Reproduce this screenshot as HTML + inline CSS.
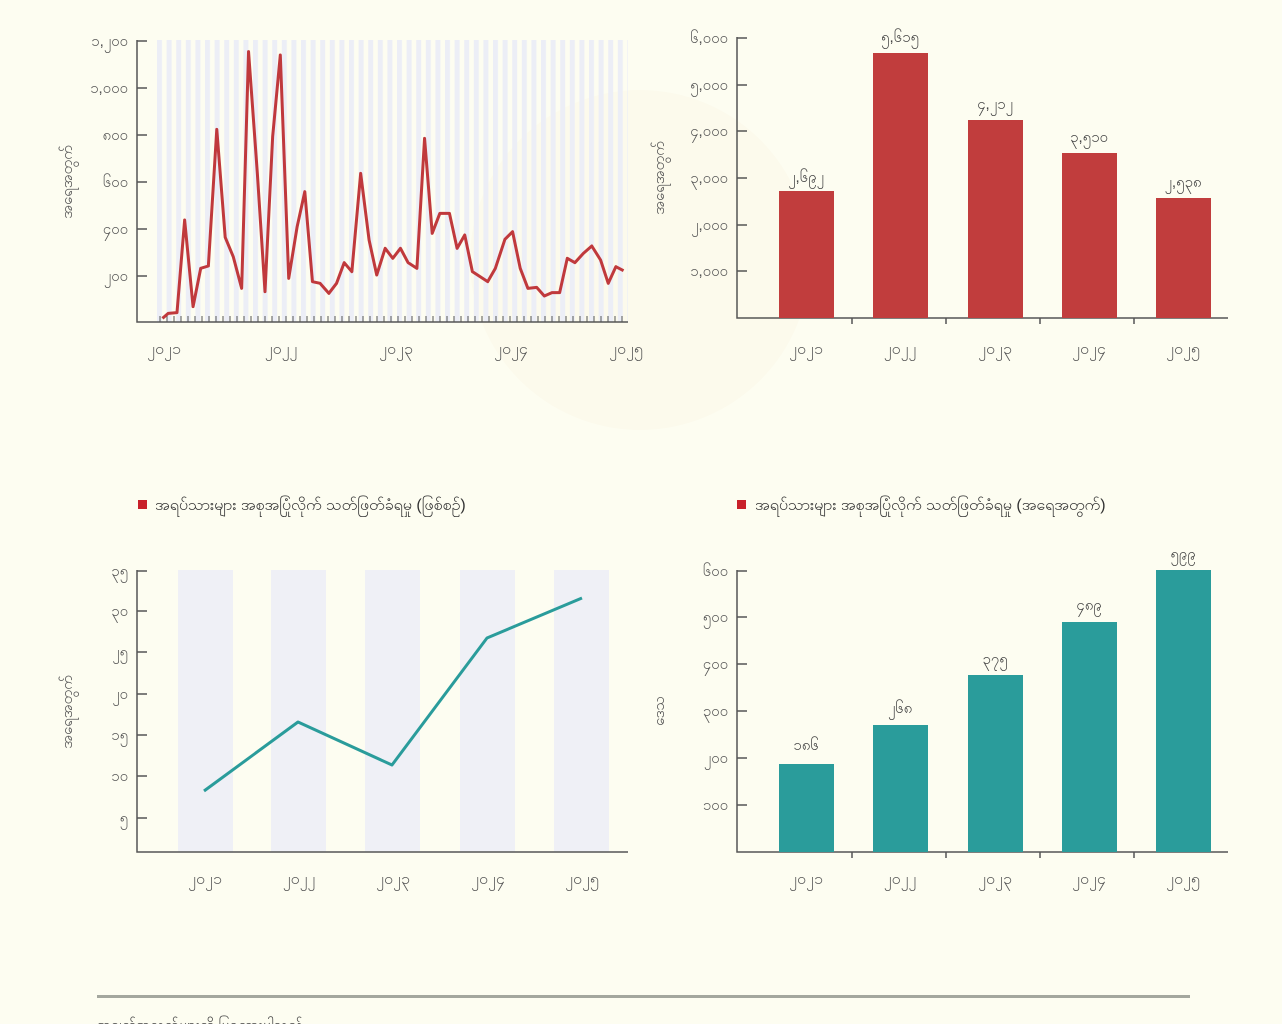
<!DOCTYPE html>
<html><head><meta charset="utf-8"><style>
body{margin:0;background:#fdfdf1;}
svg{display:block;font-family:"Liberation Sans","Noto Sans CJK SC",sans-serif;}
</style></head><body>
<svg width="1282" height="1024" viewBox="0 0 1282 1024">
<defs>
<pattern id="st" x="157" y="0" width="9.6" height="10" patternUnits="userSpaceOnUse"><rect x="0" y="0" width="5" height="10" fill="#eceef6"/></pattern>
</defs>
<rect width="1282" height="1024" fill="#fdfdf1"/>
<g opacity="0.025" fill="#e8702a"><circle cx="640" cy="260" r="170"/></g>

<!-- TOP LEFT -->
<rect x="157" y="40" width="471" height="282" fill="url(#st)"/>
<g stroke="#555" stroke-width="1.5" fill="none">
<path d="M137 40V322H628"/>
<path d="M137 41h10M137 88h10M137 135h10M137 182h10M137 229h10M137 276h10"/>
</g>
<g stroke="#555" stroke-width="1">
<path d="M160 322v-6M167 322v-6M174 322v-6M181 322v-6M188 322v-6M195 322v-6M202 322v-6M209 322v-6M216 322v-6M223 322v-6M230 322v-6M237 322v-6M244 322v-6M251 322v-6M258 322v-6M265 322v-6M272 322v-6M279 322v-6M286 322v-6M293 322v-6M300 322v-6M307 322v-6M314 322v-6M321 322v-6M328 322v-6M335 322v-6M342 322v-6M349 322v-6M356 322v-6M363 322v-6M370 322v-6M377 322v-6M384 322v-6M391 322v-6M398 322v-6M405 322v-6M412 322v-6M419 322v-6M426 322v-6M433 322v-6M440 322v-6M447 322v-6M454 322v-6M461 322v-6M468 322v-6M475 322v-6M482 322v-6M489 322v-6M496 322v-6M503 322v-6M510 322v-6M517 322v-6M524 322v-6M531 322v-6M538 322v-6M545 322v-6M552 322v-6M559 322v-6M566 322v-6M573 322v-6M580 322v-6M587 322v-6M594 322v-6M601 322v-6M608 322v-6M615 322v-6M622 322v-6"/>
</g>
<g transform="translate(40,20) scale(0.38265,0.33333)">
<polyline fill="none" stroke="#c0393c" stroke-width="3" vector-effect="non-scaling-stroke" stroke-linejoin="round"
points="320,895 335,880 358,878 378,600 400,860 420,745 440,738 462,328 484,652 505,710 527,805 545,95 568,460 588,815 608,350 628,105 650,775 672,620 692,515 712,785 732,790 755,820 775,790 795,728 815,755 838,460 860,660 880,765 902,685 922,715 942,685 962,728 985,745 1005,355 1025,640 1045,580 1070,580 1090,685 1110,645 1130,755 1150,770 1170,785 1190,745 1215,658 1235,635 1255,745 1275,805 1298,802 1318,828 1338,818 1358,818 1378,715 1398,728 1420,700 1442,678 1465,720 1485,790 1505,740 1525,752"/>
</g>
<g fill="#555" font-size="15" text-anchor="end">
<text x="128" y="46">၁,၂၀၀</text><text x="128" y="93">၁,၀၀၀</text><text x="128" y="140">၈၀၀</text><text x="128" y="187">၆၀၀</text><text x="128" y="234">၄၀၀</text><text x="128" y="281">၂၀၀</text>
</g>
<g fill="#555" font-size="16" text-anchor="middle">
<text x="164" y="354">၂၀၂၁</text><text x="281" y="354">၂၀၂၂</text><text x="396" y="354">၂၀၂၃</text><text x="511" y="354">၂၀၂၄</text><text x="626" y="354">၂၀၂၅</text>
</g>
<text transform="translate(72,182) rotate(-90)" fill="#555" font-size="15" text-anchor="middle">အရေအတွက်</text>

<!-- TOP RIGHT -->
<g stroke="#555" stroke-width="1.5" fill="none">
<path d="M737 37V318H1228"/>
<path d="M737 38h10M737 85h10M737 131h10M737 178h10M737 225h10M737 271h10"/>
<path d="M852 318v6M946 318v6M1040 318v6M1134 318v6"/>
</g>
<g fill="#c13d3d">
<rect x="779" y="191" width="55" height="127"/><rect x="873" y="53" width="55" height="265"/><rect x="968" y="120" width="55" height="198"/><rect x="1062" y="153" width="55" height="165"/><rect x="1156" y="198" width="55" height="120"/>
</g>
<g fill="#555" font-size="15" text-anchor="end">
<text x="728" y="43">၆,၀၀၀</text><text x="728" y="90">၅,၀၀၀</text><text x="728" y="136">၄,၀၀၀</text><text x="728" y="183">၃,၀၀၀</text><text x="728" y="230">၂,၀၀၀</text><text x="728" y="276">၁,၀၀၀</text>
</g>
<g fill="#444" font-size="15" text-anchor="middle">
<text x="806" y="182">၂,၆၉၂</text><text x="900" y="42">၅,၆၁၅</text><text x="995" y="109">၄,၂၁၂</text><text x="1089" y="142">၃,၅၁၀</text><text x="1183" y="187">၂,၅၃၈</text>
</g>
<g fill="#555" font-size="16" text-anchor="middle">
<text x="806" y="354">၂၀၂၁</text><text x="900" y="354">၂၀၂၂</text><text x="995" y="354">၂၀၂၃</text><text x="1089" y="354">၂၀၂၄</text><text x="1183" y="354">၂၀၂၅</text>
</g>
<text transform="translate(664,178) rotate(-90)" fill="#555" font-size="15" text-anchor="middle">အရေအတွက်</text>

<!-- legends -->
<rect x="138" y="500" width="9" height="9" fill="#c8202a"/>
<text x="155" y="510" fill="#333" font-size="16">အရပ်သားများ အစုအပြုံလိုက် သတ်ဖြတ်ခံရမှု (ဖြစ်စဉ်)</text>
<rect x="737" y="500" width="9" height="9" fill="#c8202a"/>
<text x="755" y="510" fill="#333" font-size="16">အရပ်သားများ အစုအပြုံလိုက် သတ်ဖြတ်ခံရမှု (အရေအတွက်)</text>

<!-- BOTTOM LEFT -->
<g fill="#eff0f6">
<rect x="178" y="570" width="55" height="282"/><rect x="271" y="570" width="55" height="282"/><rect x="365" y="570" width="55" height="282"/><rect x="460" y="570" width="55" height="282"/><rect x="554" y="570" width="55" height="282"/>
</g>
<g stroke="#555" stroke-width="1.5" fill="none">
<path d="M137 570V852H628"/>
<path d="M137 571h10M137 611h10M137 652h10M137 694h10M137 735h10M137 776h10M137 818h10"/>
</g>
<polyline points="204,791 298,722 392,765 487,638 582,598" fill="none" stroke="#2a9c9b" stroke-width="3" stroke-linejoin="round"/>
<g fill="#555" font-size="15" text-anchor="end">
<text x="128" y="576">၃၅</text><text x="128" y="616">၃၀</text><text x="128" y="657">၂၅</text><text x="128" y="699">၂၀</text><text x="128" y="740">၁၅</text><text x="128" y="781">၁၀</text><text x="128" y="823">၅</text>
</g>
<g fill="#555" font-size="16" text-anchor="middle">
<text x="205" y="884">၂၀၂၁</text><text x="299" y="884">၂၀၂၂</text><text x="393" y="884">၂၀၂၃</text><text x="488" y="884">၂၀၂၄</text><text x="582" y="884">၂၀၂၅</text>
</g>
<text transform="translate(72,712) rotate(-90)" fill="#555" font-size="15" text-anchor="middle">အရေအတွက်</text>

<!-- BOTTOM RIGHT -->
<g stroke="#555" stroke-width="1.5" fill="none">
<path d="M737 570V852H1228"/>
<path d="M737 571h10M737 617h10M737 664h10M737 711h10M737 758h10M737 805h10"/>
<path d="M852 852v6M946 852v6M1040 852v6M1134 852v6"/>
</g>
<g fill="#2a9c9b">
<rect x="779" y="764" width="55" height="88"/><rect x="873" y="725" width="55" height="127"/><rect x="968" y="675" width="55" height="177"/><rect x="1062" y="622" width="55" height="230"/><rect x="1156" y="570" width="55" height="282"/>
</g>
<g fill="#555" font-size="15" text-anchor="end">
<text x="728" y="576">၆၀၀</text><text x="728" y="622">၅၀၀</text><text x="728" y="669">၄၀၀</text><text x="728" y="716">၃၀၀</text><text x="728" y="763">၂၀၀</text><text x="728" y="810">၁၀၀</text>
</g>
<g fill="#444" font-size="15" text-anchor="middle">
<text x="806" y="750">၁၈၆</text><text x="900" y="713">၂၆၈</text><text x="995" y="664">၃၇၅</text><text x="1089" y="610">၄၈၉</text><text x="1183" y="559">၅၉၉</text>
</g>
<g fill="#555" font-size="16" text-anchor="middle">
<text x="806" y="884">၂၀၂၁</text><text x="900" y="884">၂၀၂၂</text><text x="995" y="884">၂၀၂၃</text><text x="1089" y="884">၂၀၂၄</text><text x="1183" y="884">၂၀၂၅</text>
</g>
<text transform="translate(664,711) rotate(-90)" fill="#555" font-size="15" text-anchor="middle">ဒေသ</text>

<!-- footer -->
<rect x="97" y="995" width="1093" height="3" fill="#a4a79e"/>
<text x="97" y="1030" fill="#444" font-size="15">အချက်အလက်များကို ပြုစုထားပါသည်</text>
</svg>
</body></html>
